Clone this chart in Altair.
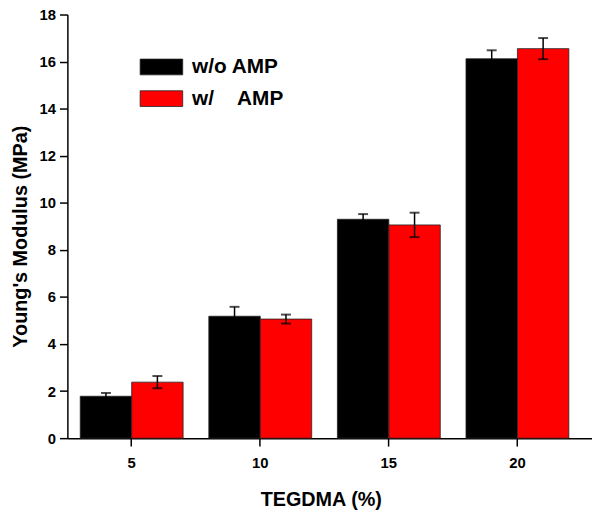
import altair as alt
import pandas as pd

conc = ["5", "10", "15", "20"]
series = ["w/o AMP", "w/\u00a0\u00a0\u00a0\u00a0AMP"]
wo_vals = [1.78, 5.18, 9.30, 16.12]
wo_err = [0.14, 0.40, 0.22, 0.36]
w_vals = [2.38, 5.06, 9.06, 16.55]
w_err = [0.26, 0.19, 0.52, 0.45]
y_ticks = [0, 2, 4, 6, 8, 10, 12, 14, 16, 18]

rows = []
for i, c in enumerate(conc):
    rows.append(dict(conc=c, series=series[0], value=wo_vals[i], err=wo_err[i]))
    rows.append(dict(conc=c, series=series[1], value=w_vals[i], err=w_err[i]))
df = pd.DataFrame(rows)
df["lo"] = df["value"] - df["err"]
df["hi"] = df["value"] + df["err"]

FONT = "Liberation Sans"

xenc = alt.X(
    "conc:N",
    sort=conc,
    scale=alt.Scale(paddingInner=0.2, paddingOuter=0.14, align=0.357, round=False),
    axis=alt.Axis(
        title="TEGDMA (%)",
        labelAngle=0,
        tickSize=8,
        labelPadding=10,
        titlePadding=19,
        titleX=256,
    ),
)
xoff = alt.XOffset("series:N", sort=series, scale=alt.Scale(domain=series))
yscale = alt.Scale(domain=[0, 18], nice=False)

base = alt.Chart(df)

bars = base.mark_bar(stroke="#222222", strokeWidth=0.8).encode(
    x=xenc,
    xOffset=xoff,
    y=alt.Y(
        "value:Q",
        scale=yscale,
        axis=alt.Axis(
            title="Young's Modulus (MPa)",
            values=y_ticks,
            tickSize=8,
            labelPadding=4,
            titlePadding=9,
            titleY=224,
            grid=False,
        ),
    ),
    color=alt.Color(
        "series:N",
        sort=series,
        scale=alt.Scale(domain=series, range=["#000000", "#ff0000"]),
        title=None,
        legend=alt.Legend(
            orient="none",
            legendX=73,
            legendY=31,
            symbolType="M-1,-0.37L1,-0.37L1,0.37L-1,0.37Z",
            symbolSize=1849,
            symbolStrokeWidth=0.8,
            symbolStrokeColor="#222222",
            labelFont=FONT,
            labelFontSize=21,
            labelFontWeight="bold",
            labelColor="black",
            labelOffset=9,
            rowPadding=-23,
        ),
    ),
)

rules = base.mark_rule(color="black", strokeWidth=1.5).encode(
    x=xenc, xOffset=xoff, y=alt.Y("lo:Q", scale=yscale), y2="hi:Q"
)
cap_hi = base.mark_tick(color="black", thickness=2, size=10, orient="horizontal").encode(
    x=xenc, xOffset=xoff, y=alt.Y("hi:Q", scale=yscale)
)
cap_lo = base.mark_tick(color="black", thickness=2, size=10, orient="horizontal").encode(
    x=xenc, xOffset=xoff, y=alt.Y("lo:Q", scale=yscale)
)

chart = (
    alt.layer(bars, rules, cap_hi, cap_lo)
    .properties(
        width=530,
        height=428,
        autosize=alt.AutoSizeParams(type="none"),
        padding={"left": 60, "top": 4, "right": 0, "bottom": 70},
    )
    .configure_view(stroke=None)
    .configure_axis(
        domainColor="black",
        domainWidth=1.5,
        tickColor="black",
        tickWidth=1.5,
        labelFont=FONT,
        labelFontSize=15,
        labelFontWeight="bold",
        labelColor="black",
        titleFont=FONT,
        titleFontSize=20,
        titleFontWeight="bold",
        titleColor="black",
    )
)

chart.save("out.html", embed_options={"renderer": "svg", "actions": False})
